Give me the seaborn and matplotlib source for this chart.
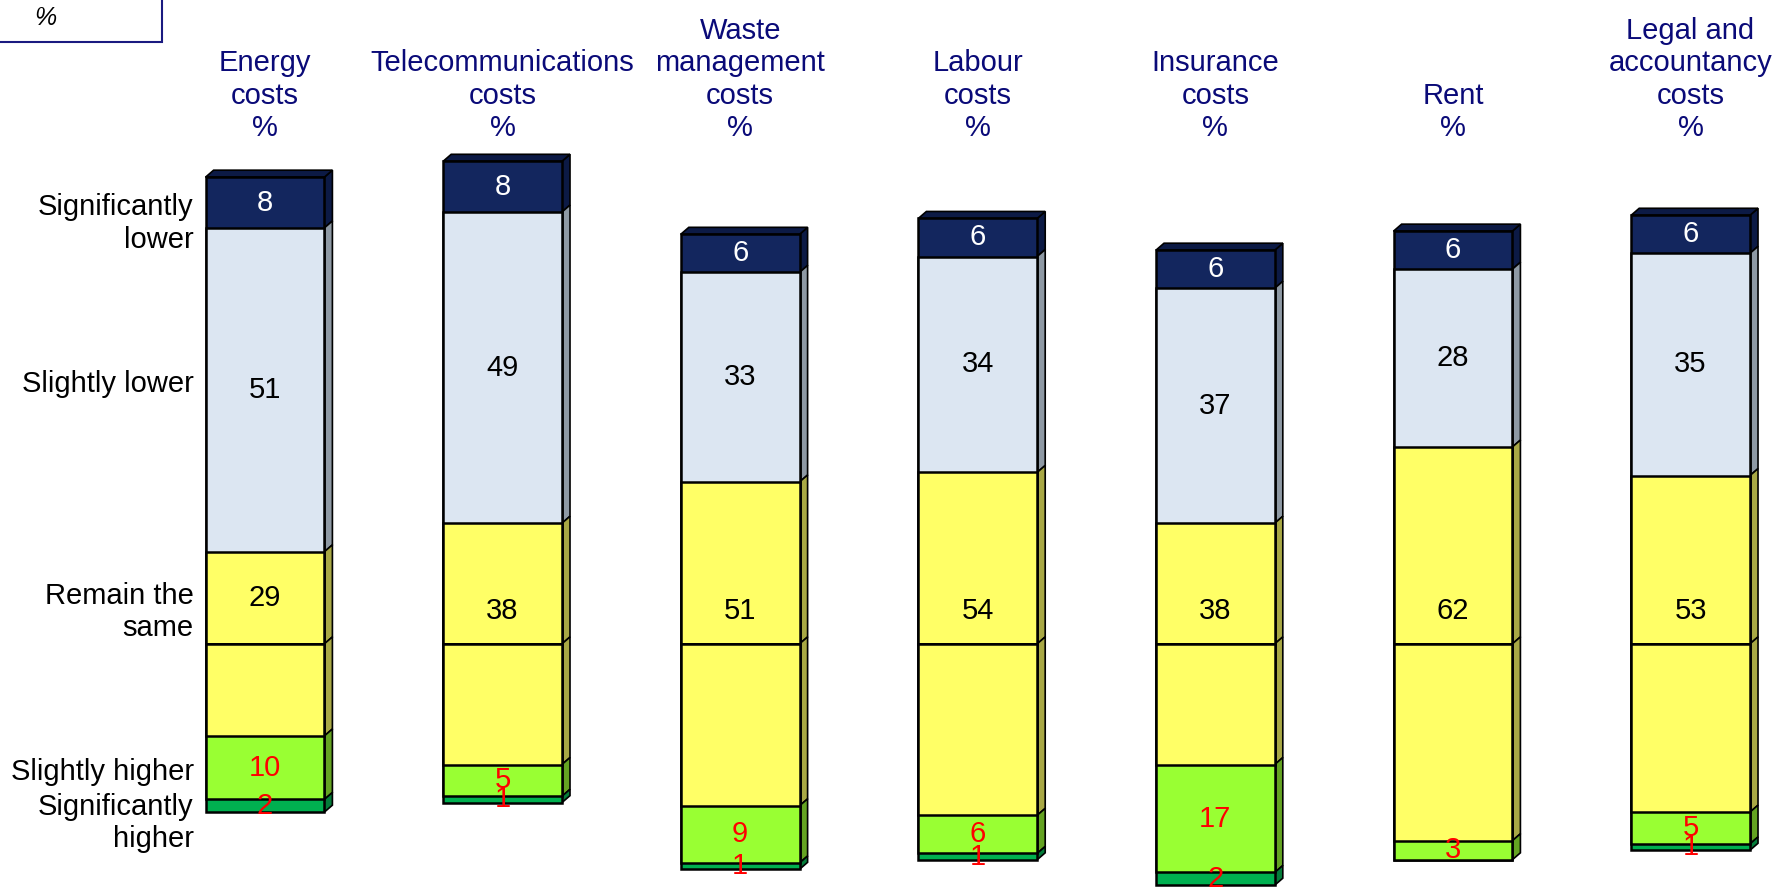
import numpy as np
import pandas as pd
import seaborn as sns
from matplotlib import pyplot as plt
from matplotlib.patches import Polygon, Rectangle

# Columns and answer shares (%)
titles = ["Energy\ncosts\n%", "Telecommunications\ncosts\n%", "Waste\nmanagement\ncosts\n%",
          "Labour\ncosts\n%", "Insurance\ncosts\n%", "Rent\n%", "Legal and\naccountancy\ncosts\n%"]
sig_lower = [8, 8, 6, 6, 6, 6, 6]
slightly_lower = [51, 49, 33, 34, 37, 28, 35]
same = [29, 38, 51, 54, 38, 62, 53]
slightly_higher = [10, 5, 9, 6, 17, 3, 5]
sig_higher = [2, 1, 1, 1, 2, 0, 1]

row_labels = ["Significantly\nlower", "Slightly lower", "Remain the\nsame", "Slightly higher",
              "Significantly\nhigher"]
row_label_y = [66.2, 40.9, 5.0, -20.1, -28.2]

front = ["#13265e", "#dce6f2", "#ffff66", "#99ff33", "#00b050"]
side = ["#0c1a45", "#8e99a4", "#a8a845", "#64a322", "#047c3a"]
txt_col = ["white", "black", "black", "red", "red"]

sns.set_style("white")
plt.rcParams["font.family"] = ["Liberation Sans", "DejaVu Sans"]

fig = plt.figure(figsize=(17.87, 8.89), dpi=100)
ax = fig.add_axes([0, 0, 1, 1])

df = pd.DataFrame({"col": titles, "sl": sig_lower, "l": slightly_lower, "s": same,
                   "h": slightly_higher, "sh": sig_higher})
half = df["s"] / 2
tops = [half + df["l"] + df["sl"], half + df["l"], half]
bots = [-(half + df["h"] + df["sh"]), -(half + df["h"]), -half]
W = 0.5

# diverging stack drawn outer-first so inner bars overdraw
for vals, c in zip(tops, front[:3]):
    sns.barplot(x=df["col"], y=vals, color=c, width=W, edgecolor="black", linewidth=1.8,
                saturation=1, ax=ax, zorder=3)
for vals, c in zip(bots, [front[4], front[3], front[2]]):
    sns.barplot(x=df["col"], y=vals, color=c, width=W, edgecolor="black", linewidth=1.8,
                saturation=1, ax=ax, zorder=3)

# 3D side and top faces
dx, dy = 0.034, 1.1
for i in range(len(titles)):
    x1 = i + W / 2
    segs = [(tops[1][i], tops[0][i], 0), (tops[2][i], tops[1][i], 1), (0, tops[2][i], 2),
            (bots[2][i], 0, 2), (bots[1][i], bots[2][i], 3), (bots[0][i], bots[1][i], 4)]
    for y0, y1, k in segs:
        if y1 - y0 <= 0:
            continue
        ax.add_patch(Polygon([(x1, y0), (x1 + dx, y0 + dy), (x1 + dx, y1 + dy), (x1, y1)],
                             closed=True, fc=side[k], ec="black", lw=1.2, zorder=2))
    yt = tops[0][i]
    ax.add_patch(Polygon([(i - W / 2, yt), (i - W / 2 + dx, yt + dy), (x1 + dx, yt + dy), (x1, yt)],
                         closed=True, fc=side[0], ec="black", lw=1.2, zorder=2))

    # value labels (the "same" label sits just above the split line)
    same_y = tops[2][i] / 2 if tops[2][i] < 16 else 5.2
    centers = [(tops[0][i] + tops[1][i]) / 2, (tops[1][i] + tops[2][i]) / 2, same_y,
               (bots[2][i] + bots[1][i]) / 2, (bots[1][i] + bots[0][i]) / 2]
    values = [sig_lower[i], slightly_lower[i], same[i], slightly_higher[i], sig_higher[i]]
    for k, (yc, v) in enumerate(zip(centers, values)):
        if v == 0:
            continue
        ax.text(i, yc, str(v), ha="center", va="center", fontsize=21, color=txt_col[k], zorder=5)

    ax.text(i, 79, titles[i], ha="center", va="bottom", fontsize=21, color="#0a0a78",
            linespacing=1.2)

for lab, y in zip(row_labels, row_label_y):
    ax.text(-0.3, y, lab, ha="right", va="center", fontsize=21, color="black")

# small unit box top-left
ax.add_patch(Rectangle((-1.2, 94.8), 1.2 - 1.115 + 162 / 237.6, 10, fc="white",
                       ec="#1a1a80", lw=1.5, zorder=1))
ax.text(-1.115 + 45 / 237.6, 98.6, "%", ha="center", va="center", fontsize=18,
        style="italic", color="black")

ax.set_xlim(-1.115, 6.406)
ax.set_ylim(-38.6, 101.4)
ax.axis("off")

fig.savefig("out.png", dpi=100)
